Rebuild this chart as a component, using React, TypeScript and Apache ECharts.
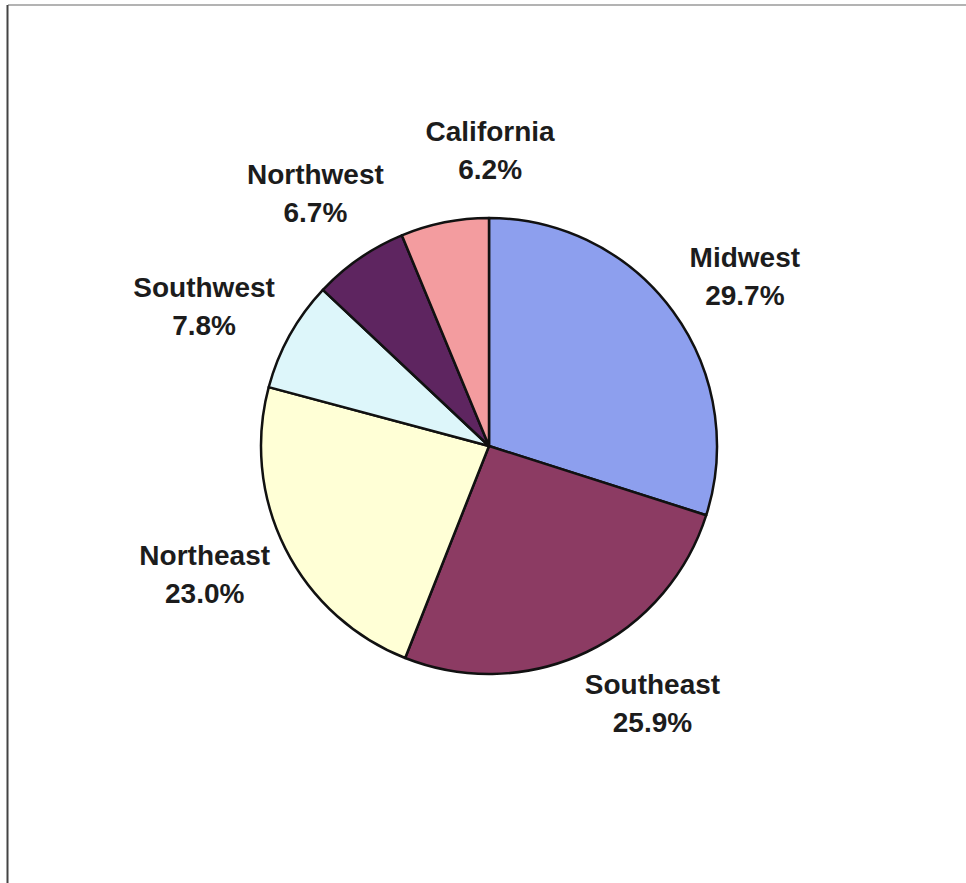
import React, { useEffect, useRef } from "react";
import * as echarts from "echarts";

const categories = ["Midwest", "Southeast", "Northeast", "Southwest", "Northwest", "California"];
const shares = [29.7, 25.9, 23.0, 7.8, 6.7, 6.2];
const sliceColors = ["#8D9FEE", "#8C3B63", "#FFFFD6", "#DDF6FA", "#5E2560", "#F39C9F"];
// small per-label nudges (px) to mimic the reference's overlap avoidance
const labelNudgeX = [7, 26, 0, -2, 9, 63];
const labelNudgeY = [2, -5, -2, 2, -13, -10];

const W = 966;
const H = 883;
const CX = 489;
const CY = 446;
const R = 228;
const LABEL_GAP = 25;

export default function App() {
  const ref = useRef<HTMLDivElement>(null);

  useEffect(() => {
    if (!ref.current) return;
    const chart = echarts.init(ref.current, null, { renderer: "svg", width: W, height: H });
    const total = shares.reduce((a, b) => a + b, 0);
    const mids: number[] = [];
    let acc = 0;
    shares.forEach((v) => {
      const a0 = (acc / total) * 2 * Math.PI;
      acc += v;
      const a1 = (acc / total) * 2 * Math.PI;
      mids.push((a0 + a1) / 2);
    });

    chart.setOption({
      animation: false,
      backgroundColor: "#ffffff",
      graphic: [
        {
          type: "line",
          shape: { x1: 8, y1: 5, x2: W, y2: 5 },
          style: { stroke: "#9a9a9a", lineWidth: 1.5 },
        },
        {
          type: "line",
          shape: { x1: 7.5, y1: 5, x2: 7.5, y2: H },
          style: { stroke: "#444444", lineWidth: 2 },
        },
      ],
      series: [
        {
          type: "pie",
          center: [CX, CY],
          radius: R,
          startAngle: 90,
          clockwise: true,
          avoidLabelOverlap: false,
          data: categories.map((name, i) => ({
            name,
            value: shares[i],
            itemStyle: { color: sliceColors[i] },
          })),
          itemStyle: { borderColor: "#111111", borderWidth: 2.5 },
          emphasis: { disabled: true },
          label: {
            show: true,
            position: "outside",
            formatter: (p: any) => `${p.name}\n${Number(p.value).toFixed(1)}%`,
            fontFamily: "Liberation Sans, Arial, sans-serif",
            fontWeight: "bold",
            fontSize: 28,
            lineHeight: 38,
            color: "#1c1c1c",
          },
          labelLine: { show: false },
          labelLayout: (params: any) => {
            const i = params.dataIndex;
            const th = mids[i];
            const s = Math.sin(th);
            const c = Math.cos(th);
            const w = params.labelRect.width;
            const h = params.labelRect.height;
            const ax = CX + (R + LABEL_GAP) * s;
            const ay = CY - (R + LABEL_GAP) * c;
            return {
              x: ax + (w / 2) * s + labelNudgeX[i],
              y: ay - (h / 2) * c + labelNudgeY[i],
              align: "center",
              verticalAlign: "middle",
            };
          },
        },
      ],
    });
    return () => chart.dispose();
  }, []);

  return (
    <div
      ref={ref}
      style={{ position: "absolute", left: 0, top: 0, width: W, height: H }}
    />
  );
}
